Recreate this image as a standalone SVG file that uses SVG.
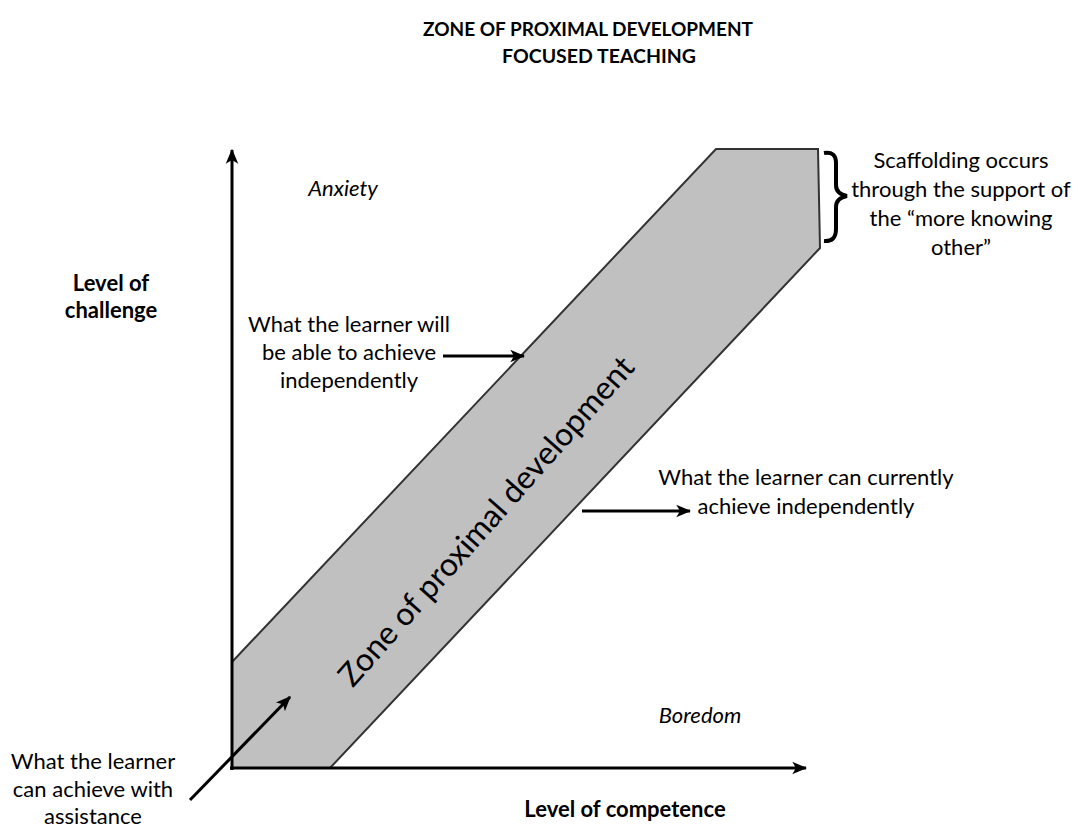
<svg xmlns="http://www.w3.org/2000/svg" width="1079" height="827" viewBox="0 0 1079 827">
<style>
.t{font-family:Lato,"Open Sans","Liberation Sans",sans-serif;font-size:22px;fill:#000;text-anchor:middle}
.b{font-weight:bold}
.i{font-style:italic}
.ln{stroke:#000;stroke-width:3;fill:none}
</style>
<defs>
<marker id="ah" viewBox="0 0 12 10" refX="11" refY="5" markerWidth="5" markerHeight="5" orient="auto" markerUnits="strokeWidth">
<path d="M0,0 L12,5 L0,10 L3,5 Z" fill="#000"/>
</marker>
</defs>
<rect width="1079" height="827" fill="#fff"/>
<g id="title">
<text class="t b" x="588" y="36" style="font-size:19px">ZONE OF PROXIMAL DEVELOPMENT</text>
<text class="t b" x="599" y="63" style="font-size:19.5px">FOCUSED TEACHING</text>
</g>
<g id="zone">
<polygon points="716,149 818,149 820,248 330,768 232,768 232,662" fill="#c0c0c0" stroke="#333" stroke-width="2"/>
<text class="t" x="486" y="521" dy="0.35em" transform="rotate(-48.5 486 521)" style="font-size:32px">Zone of proximal development</text>
</g>
<g id="connectors">
<line class="ln" x1="232" y1="770" x2="232" y2="150" marker-end="url(#ah)"/>
<line class="ln" x1="230" y1="768" x2="806" y2="768" marker-end="url(#ah)"/>
<line class="ln" x1="443" y1="356" x2="524" y2="356" marker-end="url(#ah)"/>
<line class="ln" x1="582" y1="511" x2="690" y2="511" marker-end="url(#ah)"/>
<line class="ln" x1="190" y1="800" x2="290" y2="697" marker-end="url(#ah)"/>
<path d="M824,153 Q836,151 836,163 L836,185 Q836,194 847,196 Q836,198 836,207 L836,229 Q836,242 824,241" fill="none" stroke="#000" stroke-width="4"/>
</g>
<g id="anxiety"><text class="t i" x="343" y="196">Anxiety</text></g>
<g id="boredom"><text class="t i" x="700" y="723">Boredom</text></g>
<g id="y-label">
<text class="t b" x="111" y="291">Level of</text>
<text class="t b" x="111" y="318">challenge</text>
</g>
<g id="x-label"><text class="t b" x="625" y="817">Level of competence</text></g>
<g id="future">
<text class="t" x="349" y="332">What the learner will</text>
<text class="t" x="349" y="360">be able to achieve</text>
<text class="t" x="349" y="388">independently</text>
</g>
<g id="current">
<text class="t" x="806" y="485">What the learner can currently</text>
<text class="t" x="806" y="514">achieve independently</text>
</g>
<g id="scaffold">
<text class="t" x="961" y="168">Scaffolding occurs</text>
<text class="t" x="961" y="197">through the support of</text>
<text class="t" x="961" y="226">the “more knowing</text>
<text class="t" x="961" y="255">other”</text>
</g>
<g id="assist">
<text class="t" x="93" y="769">What the learner</text>
<text class="t" x="93" y="797">can achieve with</text>
<text class="t" x="93" y="824">assistance</text>
</g>
</svg>
